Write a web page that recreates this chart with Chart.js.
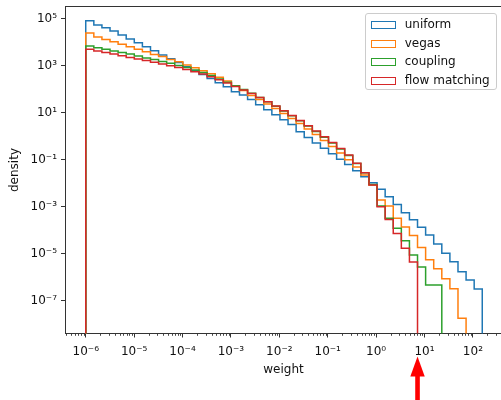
<!DOCTYPE html>
<html>
<head>
<meta charset="utf-8">
<script src="https://cdn.jsdelivr.net/npm/chart.js@4.4.0/dist/chart.umd.min.js"></script>
<style>
  html, body { margin: 0; padding: 0; background: #fff; overflow: hidden; }
  #wrap { position: relative; width: 501px; height: 400px; overflow: hidden; }
  #weights { position: absolute; left: 0; top: 0; }
  #legend {
    position: absolute; left: 365px; top: 13px; width: 132px; height: 77px;
    border: 1px solid #cccccc; border-radius: 3px; background: rgba(255,255,255,0.8);
    font: 12px "DejaVu Sans", sans-serif; color: #111; box-sizing: border-box;
  }
  .item { position: absolute; left: 4.7px; height: 14px; line-height: 14px; white-space: nowrap; }
  .item .box { display: inline-block; width: 25px; height: 8px; border: 1.5px solid; box-sizing: border-box; vertical-align: -1px; margin-right: 9px; }
</style>
</head>
<body>
<div id="wrap">
  <canvas id="weights" width="510" height="400"></canvas>
  <div id="legend"></div>
</div>
<script>
// log spaced bin edges, 1e-6 .. ~156 (49 bins)
const binEdges = [
  1.000e-6, 1.470e-6, 2.161e-6, 3.176e-6, 4.667e-6, 6.860e-6, 1.008e-5, 1.482e-5, 2.178e-5, 3.201e-5,
  4.700e-5, 6.910e-5, 1.015e-4, 1.492e-4, 2.193e-4, 3.223e-4, 4.737e-4, 6.960e-4, 1.023e-3, 1.503e-3,
  2.209e-3, 3.246e-3, 4.771e-3, 7.010e-3, 1.030e-2, 1.514e-2, 2.225e-2, 3.270e-2, 4.806e-2, 7.060e-2,
  0.1038, 0.1526, 0.2242, 0.3295, 0.4843, 0.7117, 1.046, 1.537, 2.259, 3.320,
  4.880, 7.170, 10.54, 15.49, 22.76, 33.45, 49.16, 72.24, 106.2, 156.0
];

const uniform = [
  8.5e4, 5.6e4, 4.2e4, 3.1e4, 2.1e4, 1.4e4, 9.6e3, 6.5e3, 4.4e3, 2.9e3,
  2.0e3, 1.4e3, 9.3e2, 6.3e2, 4.3e2, 2.9e2, 1.9e2, 1.3e2, 80, 58,
  37, 22, 13.5, 8.3, 5.1, 3.2, 1.58, 0.89, 0.52, 0.31,
  0.18, 0.107, 6.3e-2, 3.45e-2, 1.91e-2, 1.06e-2, 5.6e-3, 2.7e-3, 1.25e-3, 5.6e-4,
  2.8e-4, 1.34e-4, 6.3e-5, 2.6e-5, 1.04e-5, 4.6e-6, 1.72e-6, 7.6e-7, 3.15e-7
];
const vegas = [
  2.5e4, 1.7e4, 1.35e4, 1.07e4, 8.3e3, 6.5e3, 5.1e3, 4.0e3, 3.1e3, 2.5e3,
  1.9e3, 1.5e3, 1.1e3, 8.3e2, 6.3e2, 4.7e2, 3.3e2, 2.3e2, 1.4e2, 90,
  55, 37, 24, 15.2, 9.5, 5.8, 3.5, 2.06, 1.19, 0.67,
  0.37, 0.196, 0.100, 4.95e-2, 2.26e-2, 8.5e-3, 1.95e-3, 1.08e-3, 3.24e-4, 1.38e-4,
  6.0e-5, 1.85e-5, 5.6e-6, 2.3e-6, 8.6e-7, 3.24e-7, 1.78e-8
];
const coupling = [
  7.1e3, 6.0e3, 5.1e3, 4.3e3, 3.7e3, 3.2e3, 2.65e3, 2.2e3, 1.87e3, 1.55e3,
  1.29e3, 1.05e3, 8.5e2, 6.7e2, 5.2e2, 3.9e2, 2.8e2, 2.0e2, 1.43e2, 99,
  68, 45, 29.7, 19.1, 12.0, 7.5, 4.6, 2.77, 1.61, 0.92,
  0.52, 0.29, 0.153, 7.0e-2, 2.84e-2, 8.9e-3, 1.08e-3, 3.24e-4, 1.21e-4, 3.6e-5,
  8.9e-6, 2.73e-6, 4.7e-7, 4.7e-7
];
const flowMatching = [
  5.1e3, 4.3e3, 3.7e3, 3.2e3, 2.7e3, 2.3e3, 1.98e3, 1.69e3, 1.43e3, 1.21e3,
  1.03e3, 8.6e2, 7.1e2, 5.7e2, 4.5e2, 3.45e2, 2.6e2, 1.88e2, 1.33e2, 95,
  67, 45, 30, 19.5, 12.4, 7.8, 4.7, 2.85, 1.68, 0.97,
  0.55, 0.305, 0.161, 7.1e-2, 2.84e-2, 8.5e-3, 1.01e-3, 2.9e-4, 7.3e-5, 1.71e-5,
  4.5e-6
];

const seriesNames = ["uniform", "vegas", "coupling", "flow matching"];
const seriesColors = ["#1f77b4", "#ff7f0e", "#2ca02c", "#d62728"];
const xTickExps = [-6, -5, -4, -3, -2, -1, 0, 1, 2];
const yTickExps = [5, 3, 1, -1, -3, -5, -7];

const FLOOR = 1e-12; // below the axis, so the step outline drops out of view
const FONT = "DejaVu Sans";

function sup(n) {
  const map = { "-": "\u207B", "0": "\u2070", "1": "\u00B9", "2": "\u00B2", "3": "\u00B3",
    "4": "\u2074", "5": "\u2075", "6": "\u2076", "7": "\u2077", "8": "\u2078", "9": "\u2079" };
  return String(n).split("").map(c => map[c]).join("");
}

function stepPoints(values) {
  let pts = [{ x: binEdges[0], y: FLOOR }];
  for (let i = 0; i < values.length; i++) {
    pts.push({ x: binEdges[i], y: values[i] });
  }
  pts.push({ x: binEdges[values.length], y: FLOOR });
  return pts;
}

const allSeries = [uniform, vegas, coupling, flowMatching];

// minor ticks on the x axis + top spine + red arrow under the flow matching cut-off
const extras = {
  id: "extras",
  afterDraw(chart) {
    const ctx = chart.ctx;
    const xs = chart.scales.x;
    const area = chart.chartArea;
    ctx.save();
    ctx.strokeStyle = "#333";
    ctx.lineWidth = 0.9;
    ctx.beginPath();
    for (let k = -7; k <= 2; k++) {
      for (let m = 2; m <= 9; m++) {
        let v = m * Math.pow(10, k);
        if (v < xs.min || v > xs.max) continue;
        let px = Math.round(xs.getPixelForValue(v)) + 0.5;
        ctx.moveTo(px, area.bottom);
        ctx.lineTo(px, area.bottom + 2.3);
      }
    }
    ctx.stroke();
    ctx.beginPath();
    ctx.lineWidth = 1;
    ctx.moveTo(area.left, area.top);
    ctx.lineTo(area.right, area.top);
    ctx.stroke();

    let ax = xs.getPixelForValue(binEdges[flowMatching.length]);
    ctx.fillStyle = "#ff0000";
    ctx.beginPath();
    ctx.moveTo(ax, 356.5);
    ctx.lineTo(ax + 7.2, 376.5);
    ctx.lineTo(ax - 7.2, 376.5);
    ctx.closePath();
    ctx.fill();
    ctx.fillRect(ax - 2.3, 376, 4.6, 30);
    ctx.restore();
  }
};

new Chart(document.getElementById("weights"), {
  type: "line",
  data: {
    datasets: allSeries.map((vals, i) => ({
      label: seriesNames[i],
      data: stepPoints(vals),
      stepped: "before",
      borderColor: seriesColors[i],
      backgroundColor: "transparent",
      borderWidth: 1.5,
      pointRadius: 0,
      fill: false,
      order: allSeries.length - i,
    })),
  },
  options: {
    responsive: false,
    animation: false,
    events: [],
    layout: { padding: { left: 0, right: 8, top: 6.5, bottom: 0 } },
    plugins: { legend: { display: false }, tooltip: { enabled: false } },
    scales: {
      x: {
        type: "logarithmic",
        min: 3.73e-7,
        max: 399,
        afterFit: (s) => { s.height = 66.5; s.paddingLeft = 0; s.paddingRight = 0; },
        afterBuildTicks: (s) => { s.ticks = xTickExps.map(e => ({ value: Math.pow(10, e) })); },
        ticks: {
          autoSkip: false, maxRotation: 0, padding: 7, color: "#111",
          font: { family: FONT, size: 12 },
          callback: (v) => "10" + sup(Math.round(Math.log10(v))),
        },
        grid: { drawOnChartArea: false, drawTicks: true, tickLength: 4, tickColor: "#333" },
        border: { display: true, color: "#333", width: 1 },
        title: { display: true, text: "weight", color: "#111", font: { family: FONT, size: 12 }, padding: { top: 0, bottom: 23 } },
      },
      y: {
        type: "logarithmic",
        min: 4.01e-9,
        max: 3.40e5,
        afterFit: (s) => { s.width = 65; s.paddingTop = 0; s.paddingBottom = 0; },
        afterBuildTicks: (s) => { s.ticks = yTickExps.map(e => ({ value: Math.pow(10, e) })); },
        ticks: {
          autoSkip: false, padding: 4, color: "#111",
          font: { family: FONT, size: 12 },
          callback: (v) => "10" + sup(Math.round(Math.log10(v))),
        },
        grid: { drawOnChartArea: false, drawTicks: true, tickLength: 4, tickColor: "#333" },
        border: { display: true, color: "#333", width: 1 },
        title: { display: true, text: "density", color: "#111", font: { family: FONT, size: 12 }, padding: { top: 8, bottom: 0 } },
      },
    },
  },
  plugins: [extras],
});

// legend box, styled like the matplotlib one
const legend = document.getElementById("legend");
const rowTops = [2.7, 21.7, 40, 59];
seriesNames.forEach((name, i) => {
  let row = document.createElement("div");
  row.className = "item";
  row.style.top = rowTops[i] + "px";
  row.innerHTML = "<span class='box' style='border-color:" + seriesColors[i] + "'></span>" + name;
  legend.appendChild(row);
});
</script>
</body>
</html>
